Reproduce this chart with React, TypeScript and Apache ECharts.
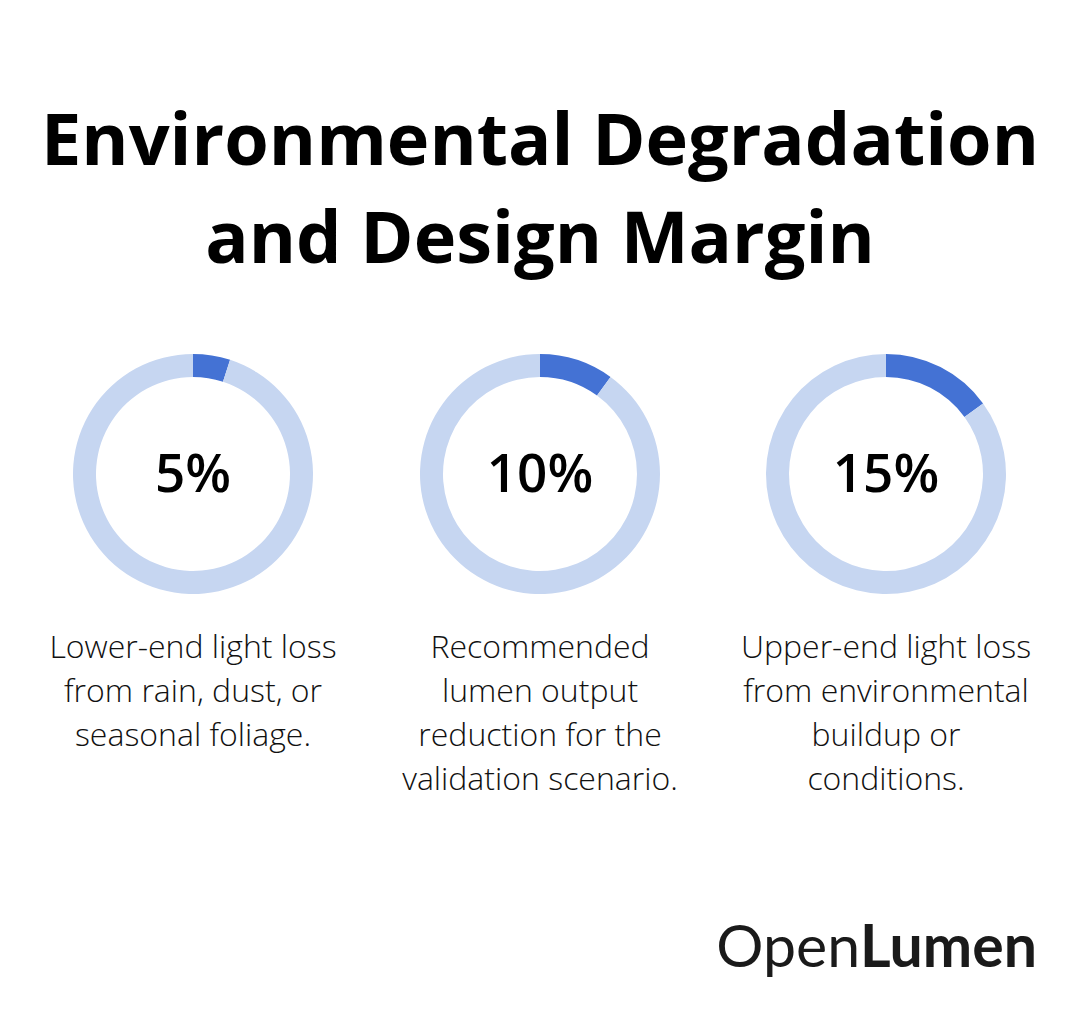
import React, { useEffect, useRef } from "react";
import * as echarts from "echarts";

const titleLines = ["Environmental Degradation", "and Design Margin"];
const percents = [5, 10, 15];
const descriptions = [
  ["Lower-end light loss", "from rain, dust, or", "seasonal foliage."],
  ["Recommended", "lumen output", "reduction for the", "validation scenario."],
  ["Upper-end light loss", "from environmental", "buildup or", "conditions."],
];
const centersX = [193, 540, 886];
const brandParts = ["Open", "Lumen"];

const DARK = "#4472D4";
const LIGHT = "#C6D6F1";

export default function App() {
  const ref = useRef<HTMLDivElement>(null);
  useEffect(() => {
    if (!ref.current) return;
    const chart = echarts.init(ref.current, null, { renderer: "svg" });
    const cy = 474;
    const series: any[] = percents.map((p, i) => ({
      type: "pie",
      center: [centersX[i], cy],
      radius: [97, 120],
      startAngle: 90,
      clockwise: true,
      silent: true,
      label: { show: false },
      labelLine: { show: false },
      data: [
        { value: p, itemStyle: { color: DARK } },
        { value: 100 - p, itemStyle: { color: LIGHT } },
      ],
    }));
    const graphics: any[] = [];
    titleLines.forEach((t, i) => {
      graphics.push({
        type: "text",
        x: 540,
        y: 137 + i * 98,
        style: {
          text: t,
          fontFamily: "Open Sans",
          fontWeight: "bold",
          fontSize: 72,
          fill: "#000",
          align: "center",
          verticalAlign: "middle",
        },
      });
    });
    percents.forEach((p, i) => {
      graphics.push({
        type: "text",
        x: centersX[i],
        y: cy - 3,
        style: {
          text: p + "%",
          fontFamily: "Open Sans",
          fontWeight: 600,
          fontSize: 53,
          fill: "#000",
          align: "center",
          verticalAlign: "middle",
        },
      });
      descriptions[i].forEach((line, j) => {
        graphics.push({
          type: "text",
          x: centersX[i],
          y: 645 + j * 44,
          style: {
            text: line,
            fontFamily: "Open Sans",
            fontWeight: 300,
            fontSize: 32,
            fill: "#111",
            align: "center",
            verticalAlign: "middle",
          },
        });
      });
    });
    graphics.push({
      type: "text",
      x: 1037,
      y: 944,
      style: {
        text: "{a|" + brandParts[0] + "}{b|" + brandParts[1] + "}",
        align: "right",
        verticalAlign: "middle",
        rich: {
          a: { fontFamily: "Lato", fontWeight: 400, fontSize: 59, fill: "#1a1a1a" },
          b: { fontFamily: "Lato", fontWeight: "bold", fontSize: 59, fill: "#1a1a1a" },
        },
      },
    });
    chart.setOption({
      animation: false,
      backgroundColor: "#fff",
      series,
      graphic: graphics,
    });
    return () => chart.dispose();
  }, []);
  return (
    <div
      ref={ref}
      style={{ position: "absolute", left: 0, top: 0, width: 1080, height: 1026 }}
    />
  );
}
